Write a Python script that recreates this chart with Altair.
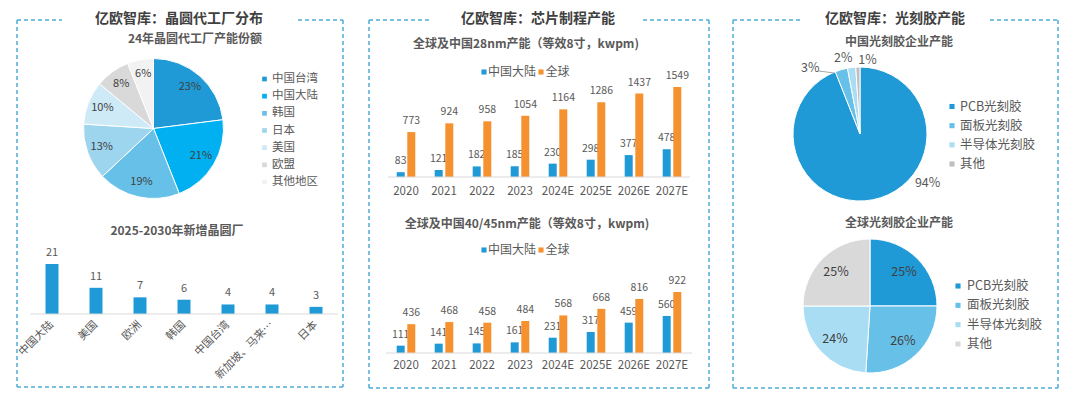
import altair as alt
import pandas as pd

# ---------------- data ----------------
fab_regions = ["中国台湾", "中国大陆", "韩国", "日本", "美国", "欧盟", "其他地区"]
fab_share = [23, 21, 19, 13, 10, 8, 6]

new_fab_regions = ["中国大陆", "美国", "欧洲", "韩国", "中国台湾", "新加坡、马来…", "日本"]
new_fab_counts = [21, 11, 7, 6, 4, 4, 3]

years = ["2020", "2021", "2022", "2023", "2024E", "2025E", "2026E", "2027E"]
cap28_cn = [83, 121, 182, 185, 230, 298, 377, 478]
cap28_global = [773, 924, 958, 1054, 1164, 1286, 1437, 1549]
cap40_cn = [111, 141, 145, 161, 231, 317, 459, 560]
cap40_global = [436, 468, 458, 484, 568, 668, 816, 922]
series = ["中国大陆", "全球"]

resist_types = ["PCB光刻胶", "面板光刻胶", "半导体光刻胶", "其他"]
resist_cn_share = [94, 3, 2, 1]
resist_global_share = [25, 26, 24, 25]

# ---------------- styles ----------------
FONT = "Noto Sans CJK SC"
BOX = "#4FADD8"
TITLE_C = "#404040"
TEXT_C = "#595959"
BLUE = "#1F9AD6"
ORANGE = "#F5922F"
fab_colors = ["#1F9AD6", "#00B0F0", "#67C0E8", "#9ED5EE", "#CFEAF7", "#D9D9D9", "#F2F2F2"]
resist_cn_colors = ["#1F9AD6", "#67C0E8", "#A9DDF3", "#BFBFBF"]
resist_gl_colors = ["#1F9AD6", "#67C0E8", "#A9DDF3", "#D9D9D9"]


def X(v):
    return v - 8


def Y(v):
    return v - 8


dummy = pd.DataFrame({"a": [1]})
layers = []


def text_at(t, x, y, size, weight="normal", color=TEXT_C, align="center"):
    return alt.Chart(pd.DataFrame({"t": [t]})).mark_text(
        fontSize=size, fontWeight=weight, color=color, align=align,
        baseline="middle", font=FONT
    ).encode(x=alt.value(X(x)), y=alt.value(Y(y)), text="t:N")


def seg(x1, y1, x2, y2, color=BOX, dash=True, width=1.5):
    kw = dict(color=color, strokeWidth=width)
    if dash:
        kw["strokeDash"] = [4, 3]
    return alt.Chart(dummy).mark_rule(**kw).encode(
        x=alt.value(X(x1)), x2=alt.value(X(x2)),
        y=alt.value(Y(y1)), y2=alt.value(Y(y2)))


def box(left, right, top, bottom, gap_l, gap_r):
    return [
        seg(left, top, gap_l, top), seg(gap_r, top, right, top),
        seg(left, top, left, bottom), seg(right, top, right, bottom),
        seg(left, bottom, right, bottom),
    ]


def pie_df(cats, vals):
    return pd.DataFrame({"cat": cats, "val": vals, "idx": list(range(len(cats))),
                         "lbl": [f"{v}%" for v in vals]})


def pie(cats, vals, colors, cx, cy, r):
    base = alt.Chart(pie_df(cats, vals)).encode(
        theta=alt.Theta("val:Q", stack=True),
        order=alt.Order("idx:Q"),
        x=alt.value(X(cx)), y=alt.value(Y(cy)))
    return base, base.mark_arc(radius=r, stroke="white", strokeWidth=1).encode(
        color=alt.Color("cat:N", scale=alt.Scale(domain=cats, range=colors), legend=None))


def vlegend(cats, colors, sq_x, txt_x, y0, y1, size, sq=28):
    df = pd.DataFrame({"cat": cats})
    ys = alt.Scale(type="point", domain=cats, range=[Y(y0), Y(y1)], padding=0)
    sqs = alt.Chart(df).mark_square(size=sq, opacity=1).encode(
        x=alt.value(X(sq_x)), y=alt.Y("cat:N", scale=ys, axis=None),
        color=alt.Color("cat:N", scale=alt.Scale(domain=cats, range=colors), legend=None))
    txt = alt.Chart(df).mark_text(align="left", baseline="middle", fontSize=size,
                                  color=TEXT_C, font=FONT).encode(
        x=alt.value(X(txt_x)), y=alt.Y("cat:N", scale=ys, axis=None), text="cat:N")
    return [sqs, txt]


def hlegend(y, sq_xs, txt_xs):
    df = pd.DataFrame({"cat": series})
    sqs = alt.Chart(df).mark_square(size=26, opacity=1).encode(
        x=alt.X("cat:N", scale=alt.Scale(type="point", domain=series,
                                         range=[X(sq_xs[0]), X(sq_xs[1])], padding=0), axis=None),
        y=alt.value(Y(y)),
        color=alt.Color("cat:N", scale=alt.Scale(domain=series, range=[BLUE, ORANGE]), legend=None))
    txt = alt.Chart(df).mark_text(align="left", baseline="middle", fontSize=12,
                                  color=TEXT_C, font=FONT).encode(
        x=alt.X("cat:N", scale=alt.Scale(type="point", domain=series,
                                         range=[X(txt_xs[0]), X(txt_xs[1])], padding=0), axis=None),
        y=alt.value(Y(y)), text="cat:N")
    return [sqs, txt]


def bar_layers(cats, vals, x0, x1, ymax, ybase, ytop, color, size, offset=0.0, fs=11):
    df = pd.DataFrame({"cat": cats, "val": vals})
    xs = alt.Scale(type="band", domain=cats, range=[X(x0 + offset), X(x1 + offset)],
                   paddingInner=0, paddingOuter=0)
    ys = alt.Scale(domain=[0, ymax], range=[Y(ybase), Y(ytop)], nice=False, zero=True)
    enc = dict(x=alt.X("cat:N", scale=xs, axis=None, sort=cats),
               y=alt.Y("val:Q", scale=ys, axis=None))
    b = alt.Chart(df).mark_bar(size=size, color=color).encode(**enc)
    t = alt.Chart(df).mark_text(baseline="bottom", dy=-6, fontSize=fs, color=TEXT_C,
                                font=FONT).encode(text="val:Q", **enc)
    return [b, t]


def cat_labels(cats, x0, x1, y, fs=11.5, angle=None):
    df = pd.DataFrame({"cat": cats})
    xs = alt.Scale(type="band", domain=cats, range=[X(x0), X(x1)], paddingInner=0, paddingOuter=0)
    kw = dict(fontSize=fs, color=TEXT_C, font=FONT, baseline="middle")
    if angle is not None:
        kw.update(angle=angle, align="right")
    else:
        kw.update(align="center")
    return alt.Chart(df).mark_text(**kw).encode(
        x=alt.X("cat:N", scale=xs, axis=None, sort=cats), y=alt.value(Y(y)), text="cat:N")


# ---------------- panel 1 ----------------
layers += box(17, 343, 20, 387, 62, 298)
layers.append(text_at("亿欧智库：晶圆代工厂分布", 179, 19, 14, "bold", TITLE_C))
layers.append(text_at("24年晶圆代工厂产能份额", 195, 38.5, 12, "bold", TEXT_C))
b1, a1 = pie(fab_regions, fab_share, fab_colors, 153.5, 128.5, 70)
layers.append(a1)
layers.append(b1.mark_text(radius=55, fontSize=11, color=TITLE_C, font=FONT).encode(text="lbl:N"))
layers += vlegend(fab_regions, fab_colors, 264.5, 272, 79, 182, 11.5, sq=22)

layers.append(text_at("2025-2030年新增晶圆厂", 177, 231, 12, "bold", TEXT_C))
layers += bar_layers(new_fab_regions, new_fab_counts, 30, 338, 21, 314, 264, BLUE, 13)
layers.append(seg(30, 314, 338, 314, color="#D9D9D9", dash=False, width=1))
layers.append(cat_labels(new_fab_regions, 30, 338, 323, fs=11, angle=315))

# ---------------- panel 2 ----------------
layers += box(369, 709, 20, 388, 432, 643)
layers.append(text_at("亿欧智库：芯片制程产能", 538, 19, 14, "bold", TITLE_C))

layers.append(text_at("全球及中国28nm产能（等效8寸，kwpm)", 526, 44, 12, "bold", TEXT_C))
layers += hlegend(72, [484, 541], [488, 545.5])
layers += bar_layers(years, cap28_cn, 387, 691, 1549, 177, 87, BLUE, 8, offset=-5.3, fs=10.5)
layers += bar_layers(years, cap28_global, 387, 691, 1549, 177, 87, ORANGE, 8, offset=5.3, fs=10.5)
layers.append(seg(388, 177, 690, 177, color="#D9D9D9", dash=False, width=1))
layers.append(cat_labels(years, 387, 691, 192, fs=11.5))

layers.append(text_at("全球及中国40/45nm产能（等效8寸，kwpm)", 527, 224, 12, "bold", TEXT_C))
layers += hlegend(250, [484, 541], [488, 545.5])
layers += bar_layers(years, cap40_cn, 387, 691, 922, 353, 292, BLUE, 8, offset=-5.3, fs=10.5)
layers += bar_layers(years, cap40_global, 387, 691, 922, 353, 292, ORANGE, 8, offset=5.3, fs=10.5)
layers.append(seg(386, 353, 692, 353, color="#D9D9D9", dash=False, width=1))
layers.append(cat_labels(years, 387, 691, 366, fs=11.5))

# ---------------- panel 3 ----------------
layers += box(733, 1058, 20, 388, 802, 990)
layers.append(text_at("亿欧智库：光刻胶产能", 895, 19, 14, "bold", TITLE_C))

layers.append(text_at("中国光刻胶企业产能", 899, 42, 12, "bold", TEXT_C))
b3, a3 = pie(resist_types, resist_cn_share, resist_cn_colors, 860, 134, 67)
layers.append(a3)
outside = [("PCB光刻胶", 53, -28), ("面板光刻胶", -28, 9), ("半导体光刻胶", -7, 1), ("其他", 10, 4)]
for cat, dx, dy in outside:
    layers.append(
        b3.transform_calculate(show=f"datum.cat == '{cat}' ? datum.lbl : ''")
        .mark_text(radius=78, dx=dx, dy=dy, fontSize=12.5, color=TEXT_C, font=FONT)
        .encode(text="show:N"))
layers.append(seg(819, 71, 834, 73, color="#A6A6A6", dash=False, width=1))
layers += vlegend(resist_types, resist_cn_colors, 952, 960, 106.5, 164, 12.5, sq=26)

layers.append(text_at("全球光刻胶企业产能", 899, 223, 12, "bold", TEXT_C))
b4, a4 = pie(resist_types, resist_global_share, resist_gl_colors, 870, 306, 67)
layers.append(a4)
layers.append(b4.mark_text(radius=48, fontSize=12.5, color=TITLE_C, font=FONT).encode(text="lbl:N"))
layers += vlegend(resist_types, resist_gl_colors, 958, 967, 286, 344, 12.5, sq=26)

chart = alt.layer(*layers).resolve_scale(
    x="independent", y="independent", theta="independent", color="independent"
).properties(
    width=1064, height=382, padding=0, autosize="none", background="white"
).configure_view(stroke=None)

chart.save("out.html", embed_options={"renderer": "svg", "actions": False})
